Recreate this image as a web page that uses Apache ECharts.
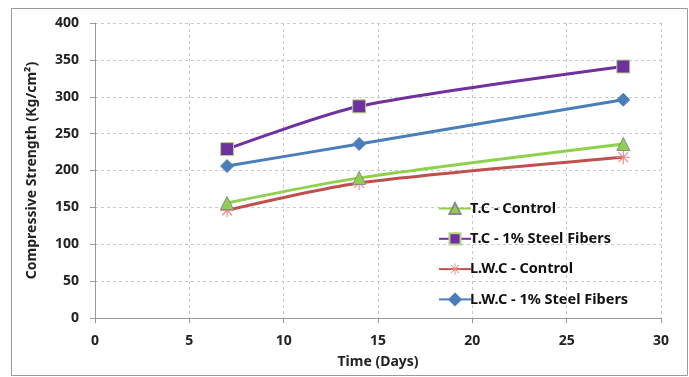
<!DOCTYPE html>
<html><head><meta charset="utf-8">
<script src="https://cdn.jsdelivr.net/npm/echarts@6/dist/echarts.min.js"></script>
<style>html,body{margin:0;padding:0;background:#fff}#c{width:689px;height:377px}</style>
</head><body><div id="c"></div>
<script>
var days = [7, 14, 28];
var seriesNames = ['T.C - Control', 'T.C - 1% Steel Fibers', 'L.W.C - Control', 'L.W.C - 1% Steel Fibers'];
var tcControl = [156, 190, 236];
var tcFibers = [229, 287, 341];
var lwcControl = [146, 183, 218];
var lwcFibers = [206, 236, 296];
var xTicks = [0, 5, 10, 15, 20, 25, 30];
var yTicks = [0, 50, 100, 150, 200, 250, 300, 350, 400];

function pts(v){ return days.map(function(d,i){ return [d, v[i]]; }); }
var font = 'Noto Sans';
var asterisk = 'path://M0,4.6L10,4.6L10,5.4L0,5.4Z M4.6,0L5.4,0L5.4,10L4.6,10Z M1.2,1.8L1.8,1.2L8.8,8.2L8.2,8.8Z M8.2,1.2L8.8,1.8L1.8,8.8L1.2,8.2Z';

var chart = echarts.init(document.getElementById('c'));
chart.setOption({
  animation: false,
  graphic: [{type:'rect', shape:{x:11.5,y:8.5,width:676,height:367}, style:{fill:'none', stroke:'#999', lineWidth:1}}],
  grid: {left: 95, right: 28, top: 23, bottom: 59},
  xAxis: {
    type: 'value', min: 0, max: 30, interval: 5,
    name: 'Time (Days)', nameLocation: 'middle', nameGap: 37,
    nameTextStyle: {fontFamily: font, fontWeight: 'bold', fontSize: 14, color: '#222'},
    axisLine: {show: true, lineStyle: {color: '#999'}},
    axisTick: {show: true, length: 5, lineStyle: {color: '#999'}},
    axisLabel: {fontFamily: font, fontWeight: 'bold', fontSize: 14, color: '#222', margin: 16},
    splitLine: {show: true, lineStyle: {color: '#c8c8c8', type: [3,3]}}
  },
  yAxis: {
    type: 'value', min: 0, max: 400, interval: 50,
    name: 'Compressive Strength (Kg/cm²)', nameLocation: 'middle', nameGap: 56,
    nameTextStyle: {fontFamily: font, fontWeight: 'bold', fontSize: 14, color: '#222'},
    axisLine: {show: true, lineStyle: {color: '#999'}},
    axisTick: {show: true, length: 5, lineStyle: {color: '#999'}},
    axisLabel: {fontFamily: font, fontWeight: 'bold', fontSize: 14, color: '#222', margin: 16},
    splitLine: {show: true, lineStyle: {color: '#c8c8c8', type: [3,3]}}
  },
  legend: {
    orient: 'vertical', left: 433, top: 196, itemGap: 15.3, itemWidth: 32, itemHeight: 14,
    textStyle: {fontFamily: font, fontWeight: 'bold', fontSize: 14.5, color: '#111', padding: [0,0,0,-6]},
    data: seriesNames
  },
  series: [
    {name: seriesNames[0], type: 'line', smooth: 0.25, data: pts(tcControl),
     symbol: 'triangle', symbolSize: 13,
     lineStyle: {color: '#8fd14f', width: 3},
     itemStyle: {color: '#8fd14f', borderColor: '#8a8a8a', borderWidth: 1}, z: 3},
    {name: seriesNames[1], type: 'line', smooth: 0.25, data: pts(tcFibers),
     symbol: 'rect', symbolSize: 13,
     lineStyle: {color: '#7030a0', width: 3},
     itemStyle: {color: '#7030a0', borderColor: '#b5d48a', borderWidth: 1}, z: 4},
    {name: seriesNames[2], type: 'line', smooth: 0.25, data: pts(lwcControl),
     symbol: asterisk, symbolSize: 14, symbolKeepAspect: true,
     lineStyle: {color: '#c0504d', width: 3},
     itemStyle: {color: '#e88a88', borderWidth: 0}, z: 2},
    {name: seriesNames[3], type: 'line', smooth: 0.25, data: pts(lwcFibers),
     symbol: 'diamond', symbolSize: 13,
     lineStyle: {color: '#4a7ebb', width: 3},
     itemStyle: {color: '#4a7ebb', borderColor: '#4a7ebb', borderWidth: 1}, z: 3}
  ]
});
</script></body></html>
